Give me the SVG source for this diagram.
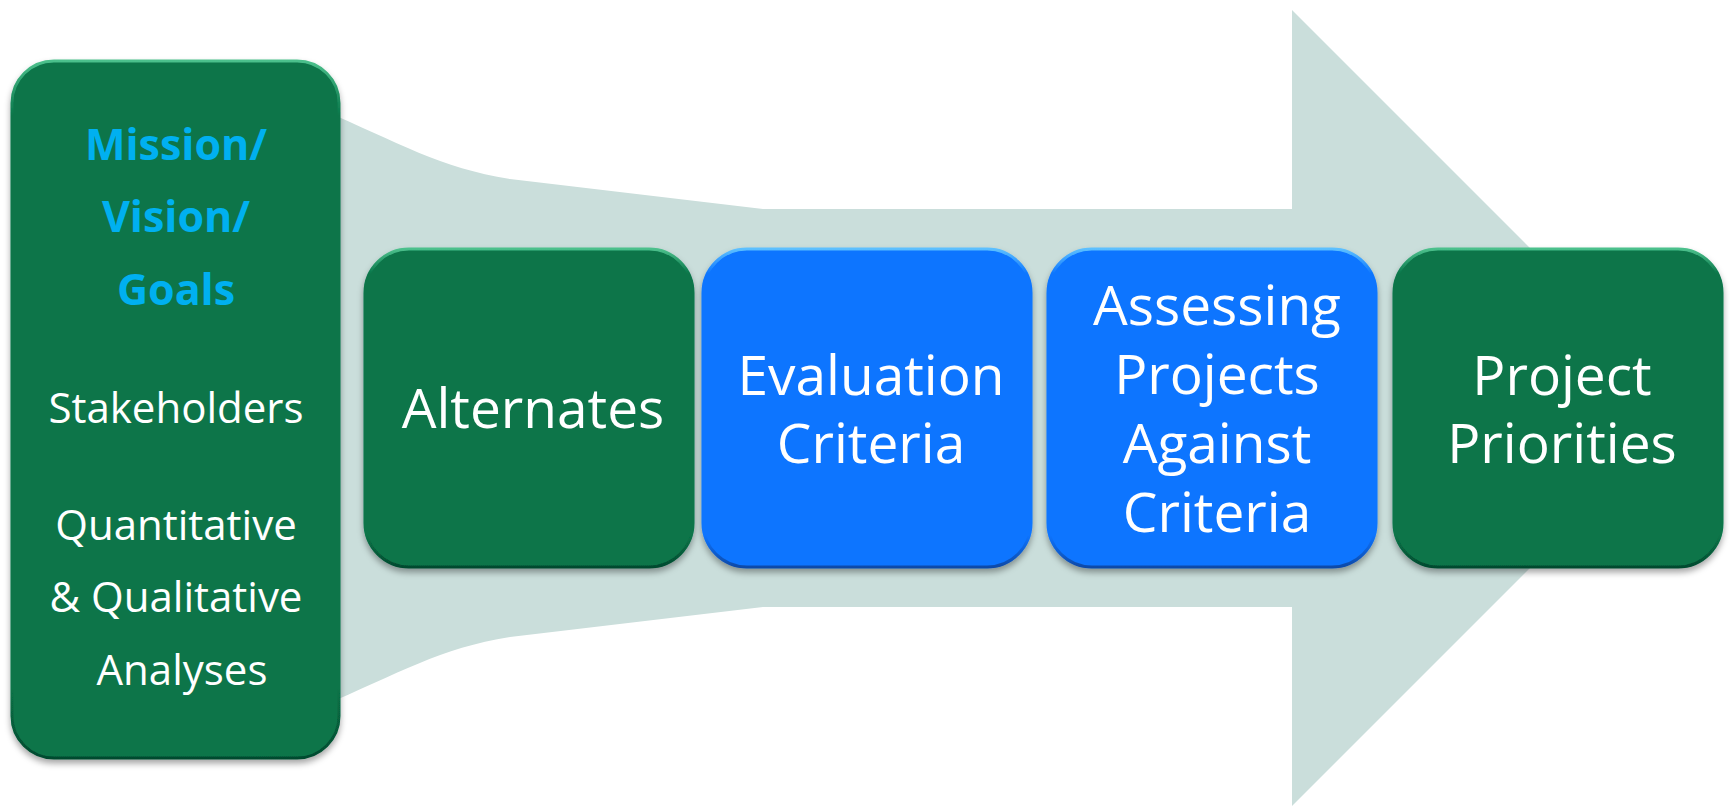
<svg xmlns="http://www.w3.org/2000/svg" width="1730" height="808" viewBox="0 0 1730 808">
<defs>
  <filter id="sh" x="-10%" y="-10%" width="120%" height="125%">
    <feDropShadow dx="0" dy="4" stdDeviation="3" flood-color="#000" flood-opacity="0.35"/>
  </filter>
  <linearGradient id="gEdge" x1="0" y1="0" x2="0" y2="1">
    <stop offset="0" stop-color="#4cc08c"/>
    <stop offset="0.08" stop-color="#077448"/>
    <stop offset="0.9" stop-color="#077448"/>
    <stop offset="1" stop-color="#064a2f"/>
  </linearGradient>
  <linearGradient id="bEdge" x1="0" y1="0" x2="0" y2="1">
    <stop offset="0" stop-color="#5cc0ff"/>
    <stop offset="0.08" stop-color="#0a74ff"/>
    <stop offset="0.9" stop-color="#0a74ff"/>
    <stop offset="1" stop-color="#0b4aa8"/>
  </linearGradient>
  <style>
    .g { fill: #077448; stroke: url(#gEdge); stroke-width: 3; filter: url(#sh); }
    .b { fill: #0a74ff; stroke: url(#bEdge); stroke-width: 3; filter: url(#sh); }
    .t { font-family: "Open Sans", "Liberation Sans", sans-serif; fill: #ffffff; text-anchor: middle; }
    .s { font-size: 42px; }
    .l { font-size: 55px; }
    .h { font-size: 43px; font-weight: bold; fill: #00b0f0; }
  </style>
</defs>
<rect width="1730" height="808" fill="#ffffff"/>
<g id="arrow">
  <path d="M 320,109 C 400,143 440,168 510,179 L 763,209 L 1292,209 L 1292,10 L 1690,408 L 1292,806 L 1292,607 L 763,607 L 510,637 C 440,648 400,673 320,707 Z" fill="#cadedb"/>
</g>
<g id="connectors"></g>
<g id="mission">
  <rect class="g" x="12" y="61" width="327" height="697" rx="42"/>
  <text class="t h" x="176" y="160">Mission/</text>
  <text class="t h" x="176" y="232">Vision/</text>
  <text class="t h" x="176" y="305">Goals</text>
  <text class="t s" x="176" y="423">Stakeholders</text>
  <text class="t s" x="176" y="540">Quantitative</text>
  <text class="t s" x="176" y="612">&amp; Qualitative</text>
  <text class="t s" x="182" y="685">Analyses</text>
</g>
<g id="alternates">
  <rect class="g" x="365" y="249" width="328" height="318" rx="44"/>
  <text class="t l" x="533" y="428">Alternates</text>
</g>
<g id="evaluation">
  <rect class="b" x="703" y="249" width="328" height="318" rx="44"/>
  <text class="t l" x="871" y="395">Evaluation</text>
  <text class="t l" x="871" y="463">Criteria</text>
</g>
<g id="assessing">
  <rect class="b" x="1048" y="249" width="328" height="318" rx="44"/>
  <text class="t l" x="1217" y="325">Assessing</text>
  <text class="t l" x="1217" y="394">Projects</text>
  <text class="t l" x="1217" y="463">Against</text>
  <text class="t l" x="1217" y="532">Criteria</text>
</g>
<g id="priorities">
  <rect class="g" x="1394" y="249" width="328" height="318" rx="44"/>
  <text class="t l" x="1562" y="395">Project</text>
  <text class="t l" x="1562" y="463">Priorities</text>
</g>
</svg>
